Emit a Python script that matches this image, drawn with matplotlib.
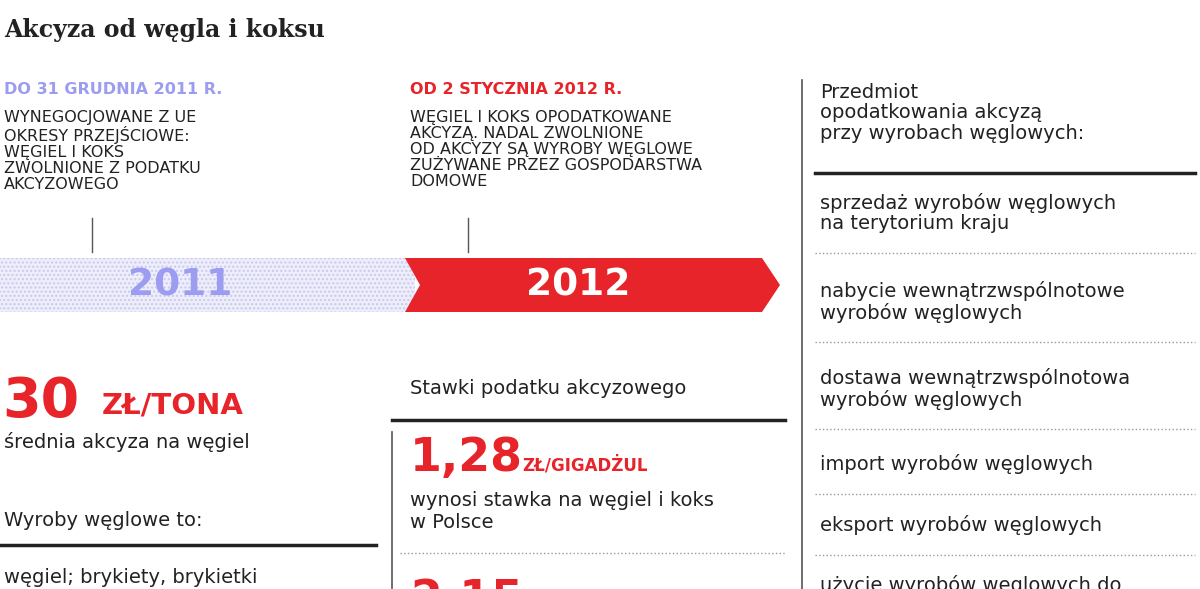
import matplotlib.pyplot as plt
from matplotlib.patches import Polygon, Rectangle

RED = '#e8242b'
LAV = '#9c9cf0'
DARK = '#222222'

title = 'Akcyza od węgla i koksu'
years = ['2011', '2012']
dates = ['DO 31 GRUDNIA 2011 R.', 'OD 2 STYCZNIA 2012 R.']
notes = ['WYNEGOCJOWANE Z UE\nOKRESY PRZEJŚCIOWE:\nWĘGIEL I KOKS\nZWOLNIONE Z PODATKU\nAKCYZOWEGO',
         'WĘGIEL I KOKS OPODATKOWANE\nAKCYZĄ. NADAL ZWOLNIONE\nOD AKCYZY SĄ WYROBY WĘGLOWE\nZUŻYWANE PRZEZ GOSPODARSTWA\nDOMOWE']
right_head = 'Przedmiot\nopodatkowania akcyzą\nprzy wyrobach węglowych:'
right_items = ['sprzedaż wyrobów węglowych\nna terytorium kraju',
               'nabycie wewnątrzwspólnotowe\nwyrobów węglowych',
               'dostawa wewnątrzwspólnotowa\nwyrobów węglowych',
               'import wyrobów węglowych',
               'eksport wyrobów węglowych',
               'użycie wyrobów węglowych do']
right_y = [213, 302, 389, 464, 525, 585]

fig = plt.figure(figsize=(12, 5.89), dpi=100)
ax = fig.add_axes([0, 0, 1, 1])
ax.set_xlim(0, 1200)
ax.set_ylim(589, 0)
ax.axis('off')

ax.text(4, 30, title, fontsize=17, fontweight='bold', family='DejaVu Serif', va='center', color=DARK)

ax.text(4, 90, dates[0], fontsize=11.5, fontweight='bold', color=LAV, va='center')
ax.text(410, 90, dates[1], fontsize=11.5, fontweight='bold', color=RED, va='center')
ax.text(4, 110, notes[0], fontsize=11.5, color=DARK, va='top', linespacing=1.08)
ax.text(410, 110, notes[1], fontsize=11.5, color=DARK, va='top', linespacing=1.08)
for x in (92, 468):
    ax.plot([x, x], [218, 252], color='#555555', lw=1)

# 2011 dotted band
ax.add_patch(Rectangle((0, 258), 415, 54, facecolor='#eeeefb', edgecolor='#c8c8f0', lw=0, hatch='....'))
ax.text(180, 286, years[0], fontsize=27, fontweight='bold', color=LAV, ha='center', va='center')
# 2012 arrow
ax.add_patch(Polygon([(405, 258), (762, 258), (780, 285), (762, 312), (405, 312), (420, 285)],
                     facecolor=RED, edgecolor='none'))
ax.text(578, 286, years[1], fontsize=27, fontweight='bold', color='white', ha='center', va='center')

# left column
ax.text(2, 402, '30', fontsize=40, fontweight='bold', color=RED, va='center')
ax.text(102, 405, 'ZŁ/TONA', fontsize=21, fontweight='bold', color=RED, va='center')
ax.text(4, 442, 'średnia akcyza na węgiel', fontsize=14, color=DARK, va='center')
ax.text(4, 520, 'Wyroby węglowe to:', fontsize=14, color=DARK, va='center')
ax.plot([0, 376], [545, 545], color=DARK, lw=2.5)
ax.text(4, 568, 'węgiel; brykiety, brykietki\ni podobne paliwa stałe', fontsize=14, color=DARK, va='top')

# middle column
ax.plot([392, 392], [432, 589], color='#555555', lw=1.2)
ax.text(410, 388, 'Stawki podatku akcyzowego', fontsize=14, color=DARK, va='center')
ax.plot([392, 785], [420, 420], color=DARK, lw=2.5)
ax.text(410, 458, '1,28', fontsize=33, fontweight='bold', color=RED, va='center')
ax.text(522, 465, 'ZŁ/GIGADŻUL', fontsize=12, fontweight='bold', color=RED, va='center')
ax.text(410, 511, 'wynosi stawka na węgiel i koks\nw Polsce', fontsize=14, color=DARK, va='center')
ax.plot([400, 785], [553, 553], color='#999999', lw=1, ls=':')
ax.text(410, 600, '2,15', fontsize=33, fontweight='bold', color=RED, va='center')

# right column
ax.plot([802, 802], [80, 589], color='#555555', lw=1.2)
ax.text(820, 113, right_head, fontsize=14, color=DARK, va='center', linespacing=1.1)
ax.plot([815, 1195], [173, 173], color=DARK, lw=2.5)
for i, (t, y) in enumerate(zip(right_items, right_y)):
    ax.text(820, y, t, fontsize=14, color=DARK, va='center', linespacing=1.1)
    if i < len(right_items) - 1:
        ax.plot([815, 1195], [y + (40 if '\n' in t else 30), ] * 2, color='#999999', lw=1, ls=':')

fig.savefig('out.png', dpi=100)
